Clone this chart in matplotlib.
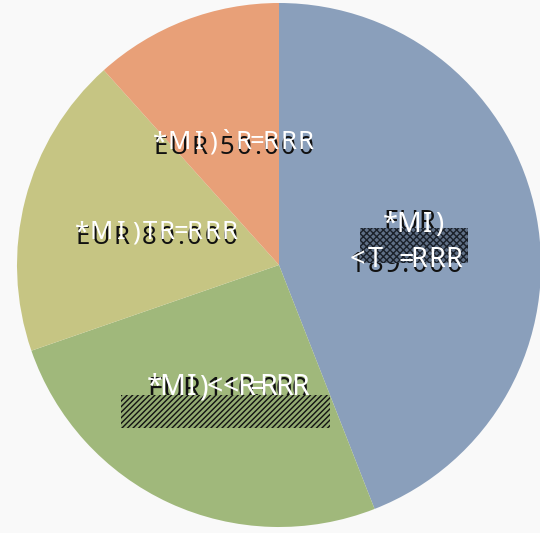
import numpy as np
import matplotlib
matplotlib.use("Agg")
import matplotlib.pyplot as plt
from matplotlib.patches import Rectangle
from matplotlib.font_manager import FontProperties

# slice values, clockwise from the top
values = [189000, 110000, 80000, 50000]
colors = ["#8a9fbb", "#a0b87b", "#c6c583", "#e8a078"]

# label lines: black text, white text drawn on top, size (pt),
# left/right pixel extent, black baseline, white baseline
label_lines = [
    ("EUR ", "*MI)", 19.5, 383, 443, 230, 232),
    ("189.000", "<T =RRR", 19.5, 350, 462, 272, 267),
    ("EUR 110.000", "*MI)<<R=RRR", 20.5, 147, 308, 398, 395),
    ("EUR 80.000", "*MI)TR=RRR", 18.5, 75, 237, 244, 239),
    ("EUR 50.000", "*MI)`R=RRR", 18.5, 153, 313, 154, 149),
]

W, H = 540, 533
cx, cy, r = 279, 265, 262

fig = plt.figure(figsize=(W / 100, H / 100), dpi=100, facecolor="#f9f9f9")
ax = fig.add_axes([0, 0, 1, 1])
ax.set_facecolor("#f9f9f9")
ax.pie(values, colors=colors, startangle=90, counterclock=False, radius=1,
       wedgeprops=dict(linewidth=0))
ax.set_xlim(-cx / r, (W - cx) / r)
ax.set_ylim(-(H - cy) / r, cy / r)
ax.set_aspect("auto")
ax.axis("off")

renderer = fig.canvas.get_renderer()


def to_data(px, py):
    return (px - cx) / r, (cy - py) / r


def char_slots(s, size, left, right):
    # spread the characters evenly over the measured width
    prop = FontProperties(family="Noto Sans", size=size)
    em = size * 100 / 72
    widths = []
    for ch in s:
        if ch == " ":
            widths.append(0.26 * em)
        else:
            w, h, d = renderer.get_text_width_height_descent(ch, prop, ismath=False)
            widths.append(w)
    extra = (right - left - sum(widths)) / max(len(s) - 1, 1)
    centres = []
    x = left
    for w in widths:
        centres.append(x + w / 2)
        x += w + extra
    return centres


for black, white, size, left, right, yb, yw in label_lines:
    slots = char_slots(black, size, left, right)
    for ch, xc in zip(black, slots):
        x, y = to_data(xc, yb)
        ax.text(x, y, ch, ha="center", va="baseline", fontsize=size,
                family="Noto Sans", color="#111111", zorder=3)
    for ch, xc in zip(white, slots):
        x, y = to_data(xc, yw)
        ax.text(x, y, ch, ha="center", va="baseline", fontsize=size,
                family="Noto Sans", color="white", zorder=5)

# odd hatched blocks over two of the labels
x0, y0 = to_data(360, 263)
ax.add_patch(Rectangle((x0, y0), 108 / r, 35 / r, facecolor="#5f6f86",
                       edgecolor="#1a2029", hatch="xxxxx", lw=0, zorder=4))
x0, y0 = to_data(121, 428)
ax.add_patch(Rectangle((x0, y0), 209 / r, 33 / r, facecolor="#93ab72",
                       edgecolor="#111111", hatch="//////", lw=0, zorder=4))

fig.savefig("out.png", dpi=100, facecolor=fig.get_facecolor())
